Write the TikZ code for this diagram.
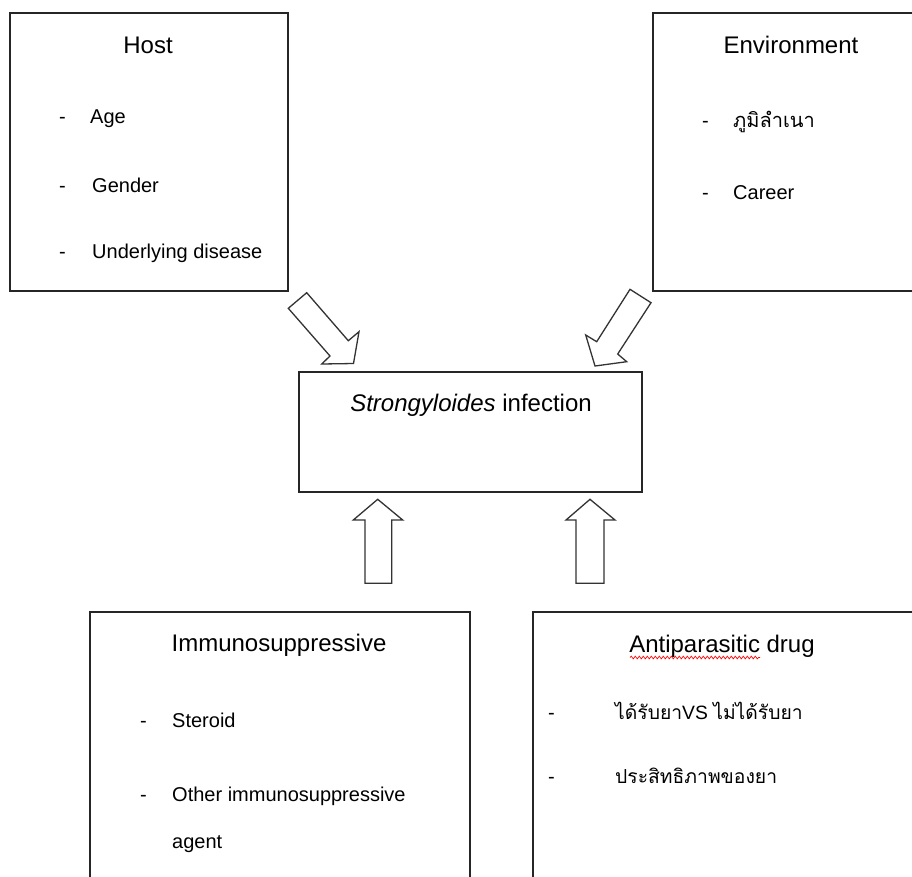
\documentclass[tikz,border=0pt]{standalone}
\usepackage{fontspec}
\setmainfont{Liberation Sans}
\newfontfamily\thaifont[Script=Thai]{Loma}
\usetikzlibrary{decorations.pathmorphing}
\begin{document}
\begin{tikzpicture}[x=1pt,y=-1pt,
  box/.style={draw=black!85,line width=1.4pt,inner sep=0pt},
  ttl/.style={anchor=base,inner sep=0pt,font=\fontsize{24}{28}\selectfont},
  itm/.style={anchor=base west,inner sep=0pt,font=\fontsize{20}{24}\selectfont},
  thitm/.style={anchor=base west,inner sep=0pt,font=\thaifont\fontsize{20}{24}\selectfont},
  thsm/.style={anchor=base west,inner sep=0pt,font=\thaifont\fontsize{19.3}{24}\selectfont},
  blk/.style={draw=black!80,line width=1.3pt,line join=miter,fill=white}]
\useasboundingbox (0,0) rectangle (912,876);
\clip (0,0) rectangle (912,876);
\fill[white] (0,0) rectangle (912,876);

% boxes
\node[box,minimum width=278pt,minimum height=278pt] (host) at (149,152) {};
\node[box,minimum width=272pt,minimum height=278pt] (env) at (789,152) {};
\node[box,minimum width=343pt,minimum height=120pt] (mid) at (470.5,432) {};
\node[box,minimum width=380pt,minimum height=278pt] (imm) at (280,751) {};
\node[box,minimum width=392pt,minimum height=278pt] (anti) at (729,751) {};

% Host
\node[ttl] (hostT) at (148,53) {Host};
\node[itm] (h1d) at (59,123) {-};
\node[itm] (h1) at (90,123) {Age};
\node[itm] (h2d) at (59,192) {-};
\node[itm] (h2) at (92,192) {Gender};
\node[itm] (h3d) at (59,258) {-};
\node[itm] (h3) at (92,258) {Underlying disease};

% Environment
\node[ttl] (envT) at (791,53) {Environment};
\node[itm] (e1d) at (702,127) {-};
\node[thitm] (e1) at (733,127) {ภูมิลำเนา};
\node[itm] (e2d) at (702,199) {-};
\node[itm] (e2) at (733,199) {Career};

% Middle
\node[ttl] (midT) at (471,411) {\textit{Strongyloides} infection};

% Immunosuppressive
\node[ttl] (immT) at (279,651) {Immunosuppressive};
\node[itm] (i1d) at (140,727) {-};
\node[itm] (i1) at (172,727) {Steroid};
\node[itm] (i2d) at (140,801) {-};
\node[itm] (i2) at (172,801) {Other immunosuppressive};
\node[itm] (i3) at (172,848) {agent};

% Antiparasitic
\node[ttl] (antiT) at (722,652) {Antiparasitic drug};
\draw[red,line width=0.7pt,decorate,decoration={snake,amplitude=1.3pt,segment length=4pt}] (630,657.5) -- (760,657.5);
\node[itm] (a1d) at (548,719) {-};
\node[thsm] (a1) at (615,719) {ได้รับยา\fontspec{Liberation Sans}VS \thaifont ไม่ได้รับยา};
\node[itm] (a2d) at (548,783) {-};
\node[thsm] (a2) at (615,783) {ประสิทธิภาพของยา};

% block arrows
\draw[blk] (306.7,292.7) -- (348.3,340.7) -- (359,331.7) -- (353.5,363.5) -- (321.7,364) -- (330,356) -- (288.3,308.3) -- cycle;
\draw[blk] (630,289.3) -- (651,302.7) -- (617.7,354) -- (626.7,361.7) -- (595,366) -- (585.7,335) -- (596.7,341.7) -- cycle;
\draw[blk] (377.7,499.3) -- (402.7,520) -- (391.7,520) -- (391.7,583.3) -- (365,583.3) -- (365,520) -- (353.3,520) -- cycle;
\draw[blk] (590,499.3) -- (615,520) -- (604,520) -- (604,583.3) -- (576,583.3) -- (576,520) -- (566,520) -- cycle;
\end{tikzpicture}
\end{document}
